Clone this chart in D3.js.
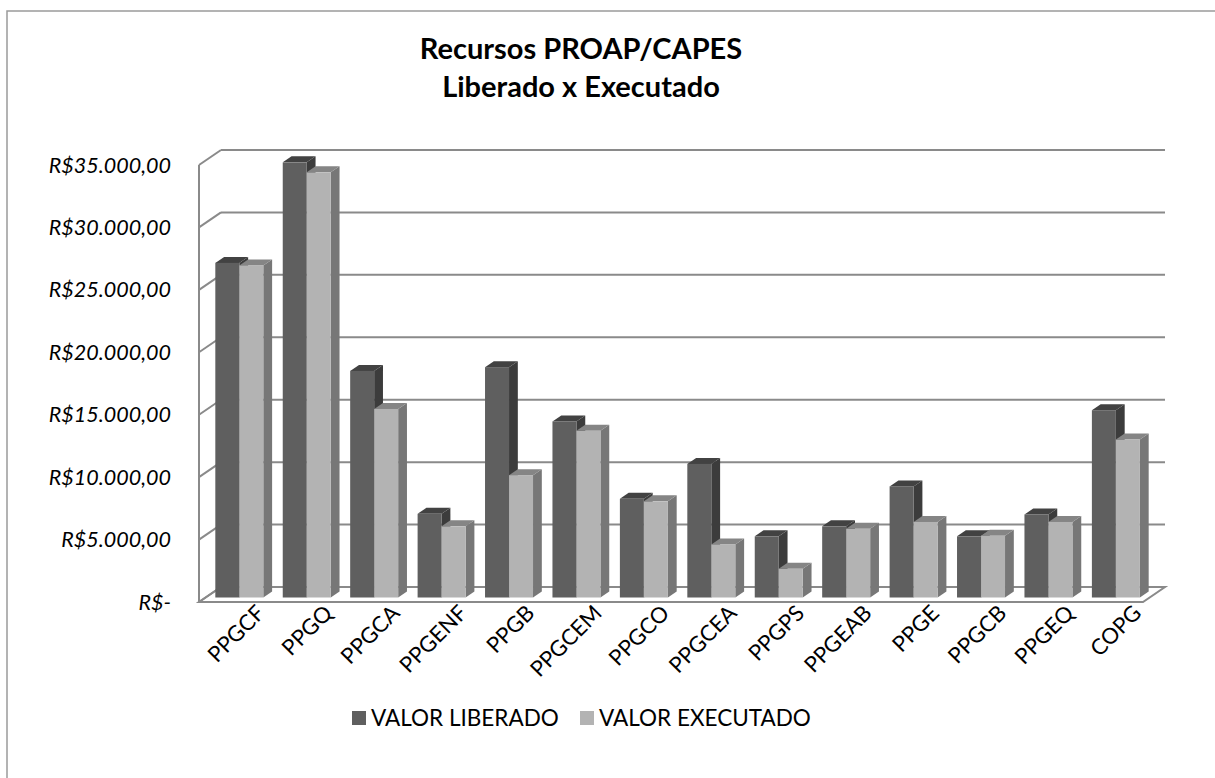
<!DOCTYPE html>
<html>
<head>
<meta charset="utf-8">
<script src="https://cdn.jsdelivr.net/npm/d3@7"></script>
<style>
  body { margin: 0; background: #fff; }
  svg { display: block; font-family: Lato, "Open Sans", sans-serif; }
</style>
</head>
<body>
<svg></svg>
<script>
const categories = ['PPGCF', 'PPGQ', 'PPGCA', 'PPGENF', 'PPGB', 'PPGCEM', 'PPGCO',
  'PPGCEA', 'PPGPS', 'PPGEAB', 'PPGE', 'PPGCB', 'PPGEQ', 'COPG'];
const valorLiberado = [26800, 34850, 18150, 6700, 18450, 14100, 7900,
  10700, 4900, 5700, 8900, 4900, 6650, 15000];
const valorExecutado = [26600, 34050, 15100, 5700, 9800, 13350, 7700,
  4250, 2300, 5500, 6050, 4950, 6050, 12650];
const seriesNames = ['VALOR LIBERADO', 'VALOR EXECUTADO'];
const yTicks = [0, 5000, 10000, 15000, 20000, 25000, 30000, 35000];

const width = 1215;
const height = 778;

const svg = d3.select('svg').attr('width', width).attr('height', height);

// outer chart frame (clipped at right/bottom like the source)
svg.append('rect')
  .attr('x', 7).attr('y', 11)
  .attr('width', 1240).attr('height', 800)
  .attr('fill', '#fff')
  .attr('stroke', '#9a9a9a')
  .attr('stroke-width', 1.5);

// front plane scales + depth vector for the oblique projection
const x = d3.scaleBand().domain(categories).range([199, 1143]);
const xs = d3.scaleBand().domain(seriesNames).range([0, x.bandwidth()]).paddingOuter(0.405);
const y = d3.scaleLinear().domain([0, 35000]).range([602, 165]);
const depth = { dx: 22, dy: -15 };
const barDepth = [0.3, 0.7];

const grid = '#8a8a8a';

// back wall gridlines
svg.append('g')
  .selectAll('line')
  .data(yTicks)
  .join('line')
  .attr('x1', 199 + depth.dx)
  .attr('x2', 1143 + depth.dx)
  .attr('y1', (d) => y(d) + depth.dy)
  .attr('y2', (d) => y(d) + depth.dy)
  .attr('stroke', grid)
  .attr('stroke-width', 2);

// side wall ticks
svg.append('g')
  .selectAll('line')
  .data(yTicks)
  .join('line')
  .attr('x1', 199)
  .attr('x2', 199 + depth.dx)
  .attr('y1', (d) => y(d))
  .attr('y2', (d) => y(d) + depth.dy)
  .attr('stroke', grid)
  .attr('stroke-width', 2);

svg.append('line')
  .attr('x1', 199).attr('x2', 199)
  .attr('y1', y(35000)).attr('y2', y(0))
  .attr('stroke', grid).attr('stroke-width', 2);

// floor
svg.append('path')
  .attr('d', d3.line()([
    [199, y(0)], [1143, y(0)],
    [1143 + depth.dx, y(0) + depth.dy], [199 + depth.dx, y(0) + depth.dy]
  ]) + 'Z')
  .attr('fill', 'none')
  .attr('stroke', grid)
  .attr('stroke-width', 2);

// bars
const palette = [
  { front: '#5f5f5f', top: '#424242', side: '#3c3c3c' },
  { front: '#b3b3b3', top: '#858585', side: '#777777' }
];

const bars = [];
categories.forEach((c, i) => {
  [valorLiberado[i], valorExecutado[i]].forEach((v, s) => {
    bars.push({ cat: c, s: s, v: v });
  });
});

const ox = depth.dx * barDepth[0];
const oy = depth.dy * barDepth[0];
const bx = depth.dx * (barDepth[1] - barDepth[0]);
const by = depth.dy * (barDepth[1] - barDepth[0]);

const barG = svg.append('g');
bars.forEach((d) => {
  const x0 = x(d.cat) + xs(seriesNames[d.s]) + ox;
  const x1 = x0 + xs.bandwidth();
  const yb = y(0) + oy;
  const yt = y(d.v) + oy;
  const col = palette[d.s];
  const g = barG.append('g');
  g.append('path')
    .attr('d', d3.line()([[x1, yb], [x1 + bx, yb + by], [x1 + bx, yt + by], [x1, yt]]) + 'Z')
    .attr('fill', col.side);
  g.append('path')
    .attr('d', d3.line()([[x0, yt], [x1, yt], [x1 + bx, yt + by], [x0 + bx, yt + by]]) + 'Z')
    .attr('fill', col.top);
  g.append('rect')
    .attr('x', x0).attr('y', yt)
    .attr('width', x1 - x0).attr('height', yb - yt)
    .attr('fill', col.front);
});

// y labels
const fmt = (d) => d === 0 ? 'R$-' : 'R$' + d3.format(',.2f')(d).replace(/,/g, '#').replace('.', ',').replace(/#/g, '.');
svg.append('g')
  .selectAll('text')
  .data(yTicks)
  .join('text')
  .attr('x', 171)
  .attr('y', (d) => y(d))
  .attr('dy', '0.35em')
  .attr('text-anchor', 'end')
  .style('font-style', 'italic')
  .style('font-size', '21.5px')
  .text(fmt);

// x labels
svg.append('g')
  .selectAll('text')
  .data(categories)
  .join('text')
  .attr('transform', (d) => 'translate(' + (x(d) + x.bandwidth() / 2 + 28) + ',' + 609 + ') rotate(-45)')
  .attr('text-anchor', 'end')
  .attr('dy', '0.35em')
  .style('font-size', '22px')
  .text((d) => d);

// title
const title = svg.append('text')
  .attr('x', 581)
  .attr('text-anchor', 'middle')
  .style('font-weight', 'bold')
  .style('font-size', '29px');
title.append('tspan').attr('x', 581).attr('y', 59).text('Recursos PROAP/CAPES');
title.append('tspan').attr('x', 581).attr('y', 97).text('Liberado x Executado');

// legend
const legend = svg.append('g');
const legendX = [352, 580];
seriesNames.forEach((name, s) => {
  legend.append('rect')
    .attr('x', legendX[s]).attr('y', 711)
    .attr('width', 14).attr('height', 14)
    .attr('fill', palette[s].front);
  legend.append('text')
    .attr('x', legendX[s] + 19).attr('y', 718)
    .attr('dy', '0.35em')
    .style('font-size', '22.5px')
    .text(name);
});
</script>
</body>
</html>
